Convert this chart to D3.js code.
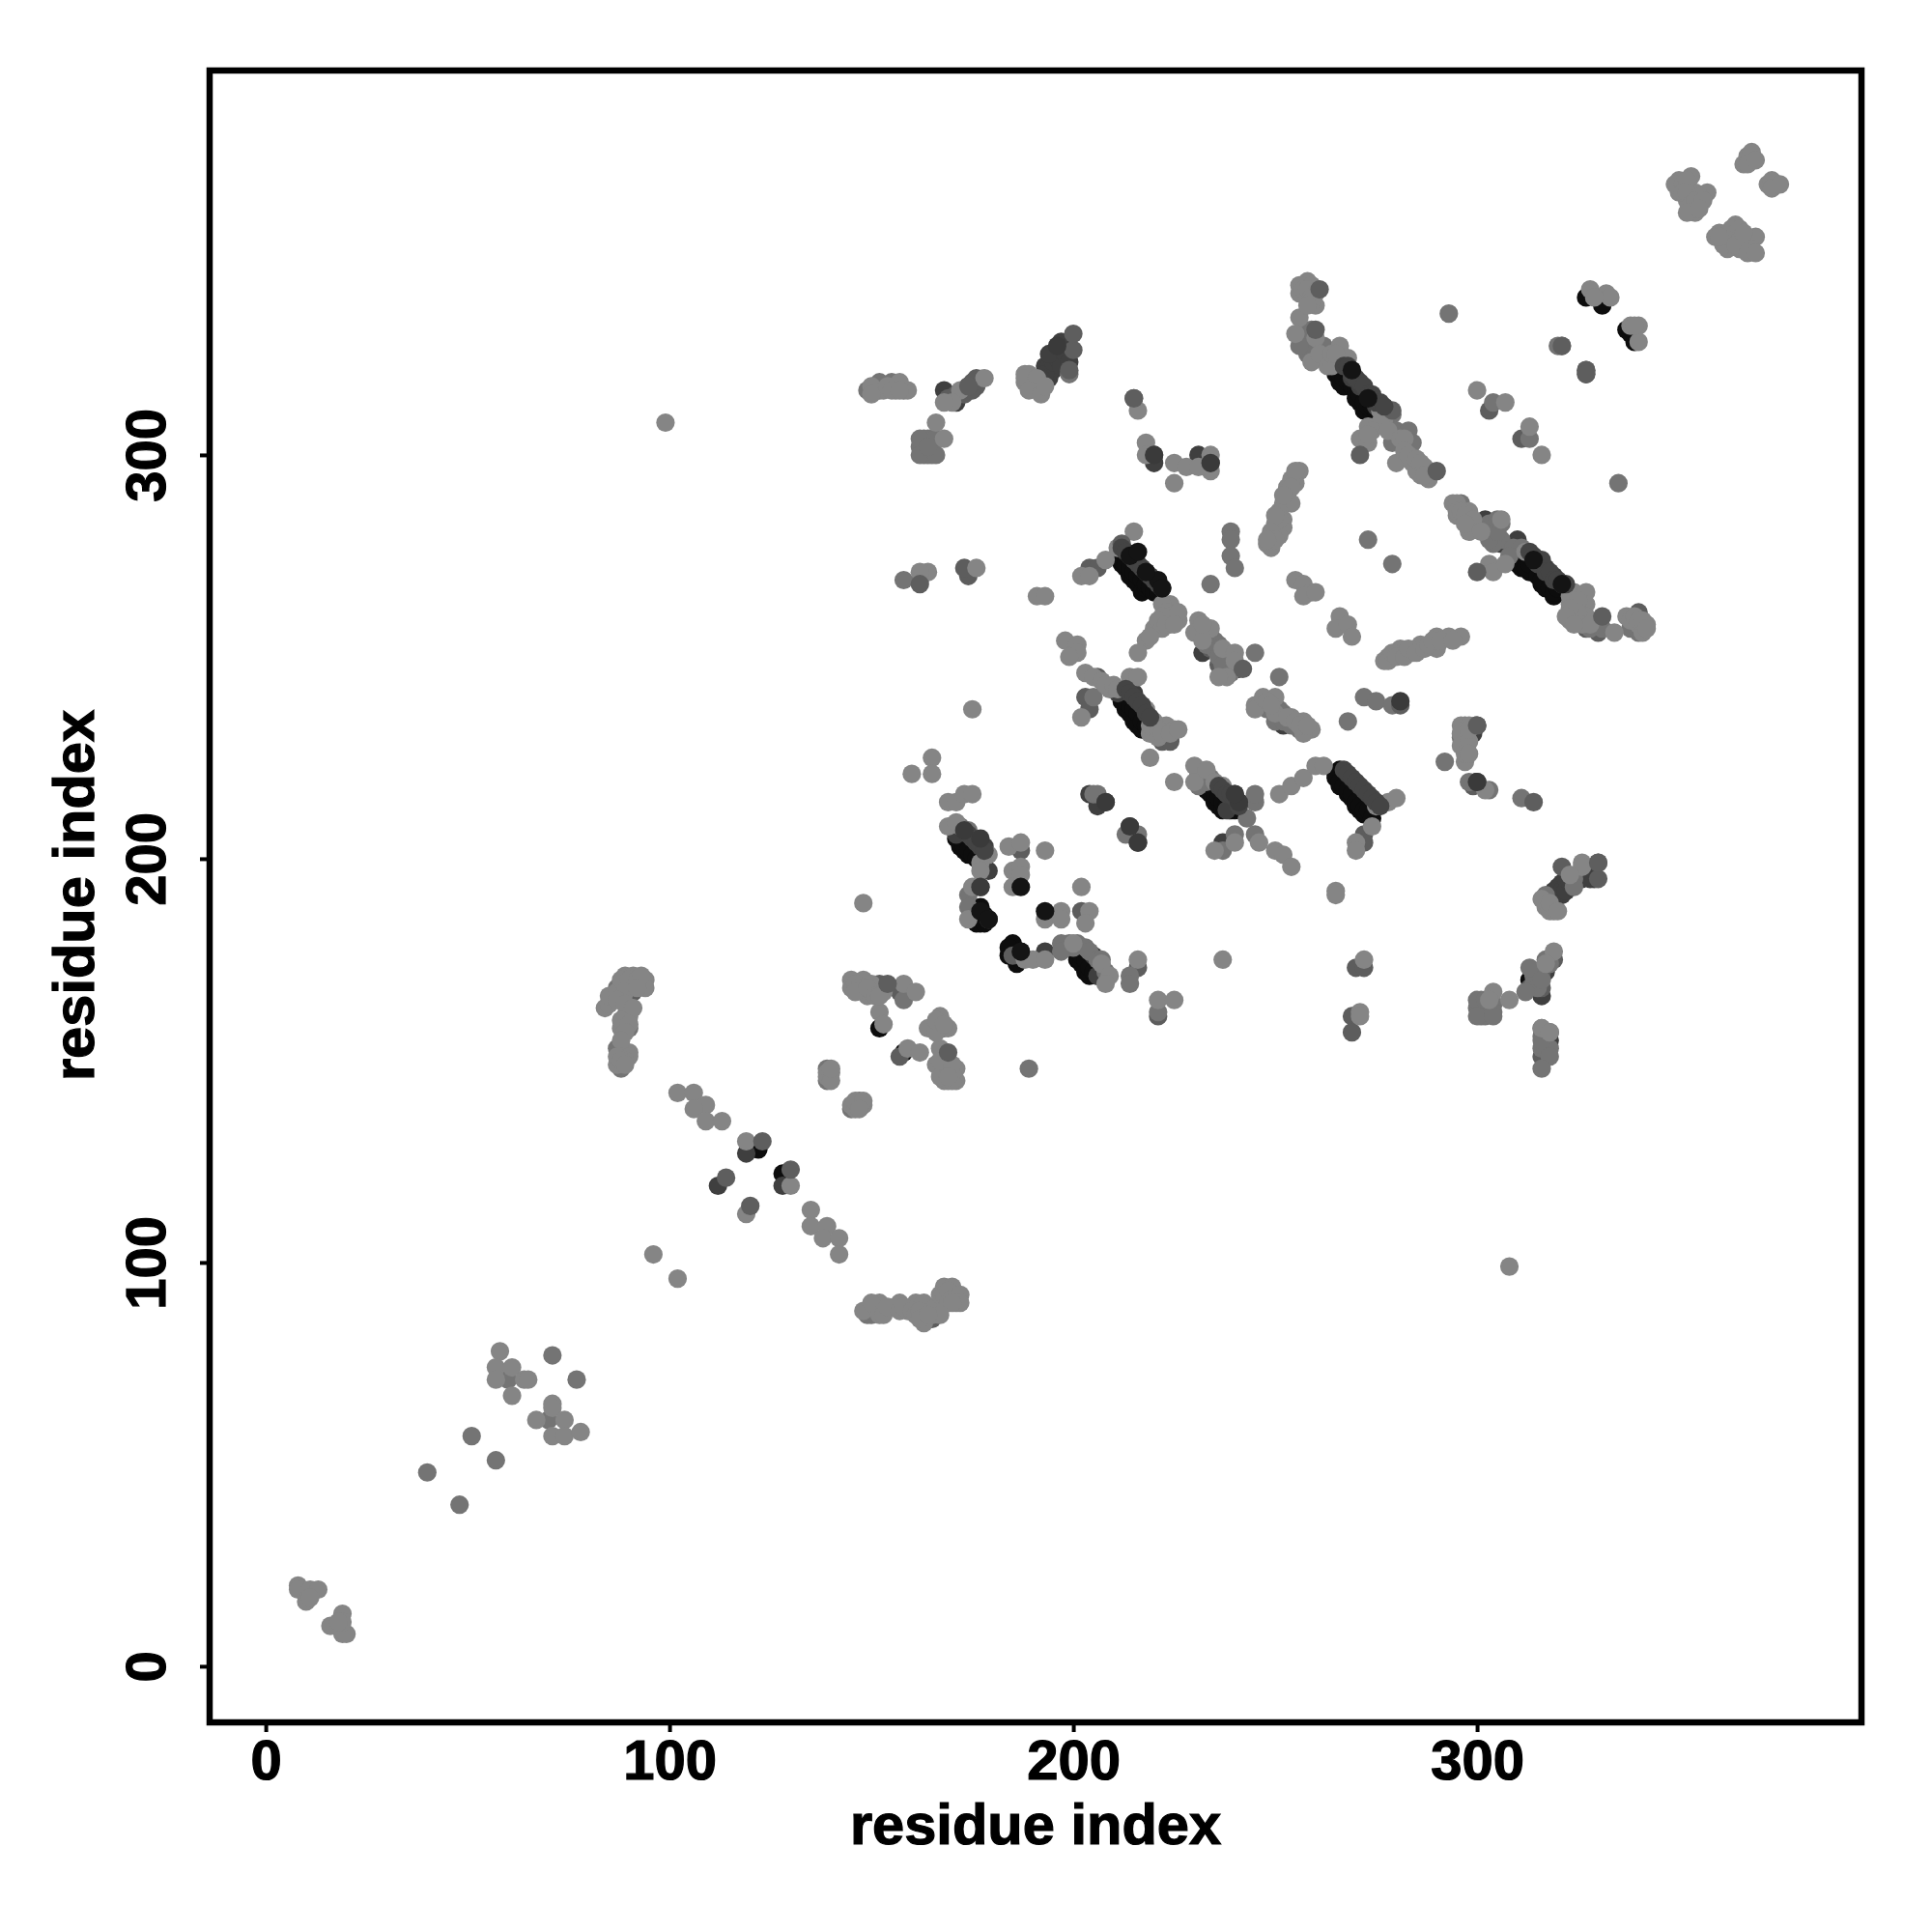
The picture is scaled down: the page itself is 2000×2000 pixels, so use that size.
<!DOCTYPE html>
<html><head><meta charset="utf-8">
<script src="https://cdn.jsdelivr.net/npm/d3@7"></script>
<style>html,body{margin:0;background:#fff}svg{display:block}</style></head>
<body><svg id="c" width="2000" height="2000"></svg>
<script>
const tickValues = [0,100,200,300];
const axisTitle = "residue index";

const contactsDeep = [[172,203],[173,202],[174,201],[174,203],[176,187],[177,184],[176,184],[175,186],[177,186],[185,179],[184,176],[187,177],[186,174],[185,177],[201,175],[202,174],[203,172],[204,171],[234,216],[235,214],[236,213],[237,212],[214,275],[212,273],[213,272],[214,270],[215,269],[216,268],[217,266],[218,267],[266,222],[265,220],[266,218],[268,216],[269,215],[270,213],[271,212],[272,211],[213,237],[212,239],[214,236],[215,234],[216,233],[217,232],[268,321],[265,320],[266,318],[267,317],[273,314],[271,313],[272,311],[270,314],[274,310],[310,273],[311,272],[313,271],[314,274],[316,268],[317,267],[319,265],[321,268],[320,266],[128,122],[122,128],[152,158],[158,152],[327,339],[331,338],[331,337],[337,331],[339,328],[338,330],[313,170]];

const bandDeep = [[211,275],[212,274],[213,273],[214,272],[215,271],[216,270],[217,269],[218,268],[219,267],[220,266],[221,266],[171,205],[172,204],[173,203],[174,202],[175,201],[176,200],[177,199],[178,198],[185,176],[186,177],[187,175],[184,178],[175,188],[176,185],[178,186],[178,184],[177,188],[201,177],[202,176],[203,175],[204,173],[205,172],[206,171],[232,219],[233,217],[235,216],[236,215],[237,214],[238,213],[239,212],[240,212],[265,221],[266,219],[267,218],[268,217],[269,216],[270,214],[271,213],[272,212],[273,212],[274,210],[212,241],[213,239],[214,238],[215,237],[216,236],[217,234],[218,233],[219,232],[266,320],[267,319],[268,318],[269,317],[270,316],[271,315],[272,313],[273,312],[274,312],[275,311],[310,274],[312,272],[313,273],[315,270],[316,269],[318,267],[319,266],[320,267],[322,267]];

const contactsDark = [[119,127],[112,119],[128,119],[171,206],[176,205],[178,203],[179,197],[177,193],[179,185],[193,177],[205,176],[206,171],[237,204],[240,216],[241,214],[238,212],[211,241],[215,241],[204,216],[208,214],[206,213],[214,208],[216,204],[241,247],[232,251],[252,233],[269,319],[271,317],[275,312],[302,284],[306,278],[310,279],[317,272],[319,270],[193,322],[194,319],[196,326],[197,324],[195,321],[168,316],[171,313],[174,317],[220,300],[220,298],[231,300],[234,298],[321,194],[319,192],[321,191],[326,195],[317,172],[316,166],[318,155],[300,219],[300,233],[299,231],[297,231],[194,322],[193,320],[192,319],[195,323],[196,324],[197,322],[197,328],[194,325],[198,325],[199,323],[318,191],[319,190],[320,193],[321,192],[322,192],[322,195],[323,194],[328,196],[327,196],[329,195],[328,195]];

const contactsMedium = [[86,166],[90,166],[91,169],[164,89],[166,88],[165,86],[152,169],[157,167],[157,151],[187,202],[167,158],[216,173],[221,161],[270,173],[272,173],[269,161],[269,157],[272,206],[272,204],[204,272],[206,272],[203,240],[204,237],[206,245],[224,230],[257,327],[303,281],[303,311],[311,304],[327,257],[330,256],[340,261],[162,269],[174,270],[173,272],[176,317],[176,319],[215,314],[321,198],[330,199],[330,195],[319,175],[316,172],[316,168],[313,168],[318,157],[316,151],[299,218],[174,316],[202,187],[185,176],[89,165],[91,167],[92,168],[165,88],[167,89],[234,252],[236,248],[222,229],[224,229],[169,314],[171,315],[173,315],[175,316],[175,318]];

const contactsSoft = [[40,48],[48,40],[51,57],[57,51],[60,71],[70,61],[71,77],[77,71],[87,153],[88,148],[87,168],[139,148],[139,145],[147,140],[145,138],[149,316],[152,318],[152,316],[155,318],[162,304],[166,304],[162,300],[166,300],[164,302],[174,207],[172,208],[174,191],[174,188],[197,179],[197,177],[214,171],[214,169],[221,162],[234,268],[239,281],[239,279],[239,275],[240,272],[245,251],[251,245],[272,240],[275,239],[279,238],[268,234],[297,233],[296,230],[292,224],[298,219],[303,217],[311,215],[273,279],[279,273],[293,335],[304,313],[313,304],[335,293],[327,321],[327,320],[320,327],[321,327],[296,288],[298,284],[303,279],[305,281],[300,165],[302,165],[300,161],[304,162],[304,161],[316,155],[316,158],[318,151],[316,148],[317,191],[317,189],[313,173],[312,167],[316,170],[168,158],[158,165],[89,161],[90,158],[158,316],[259,331],[257,331],[256,327],[262,327],[262,324],[280,306],[283,306],[284,303],[279,303],[199,320],[189,148],[205,216],[206,216],[213,206],[216,206],[305,284],[205,240],[245,214],[245,216],[243,210],[240,206],[245,206],[237,202],[158,269]];

const fillSoft = [[231,221],[232,221],[234,220],[231,218],[233,219],[199,179],[200,178],[201,179],[203,178],[204,177],[206,175],[207,175],[208,172],[231,257],[233,256],[234,255],[235,254],[236,253],[237,250],[238,249],[239,248],[233,253],[235,252],[236,250],[237,248],[239,246],[248,237],[251,237],[252,236],[250,234],[252,234],[254,233],[256,232],[257,330],[258,329],[257,328],[258,326],[259,326],[260,326],[258,325],[261,324],[303,283],[304,283],[305,280],[306,279],[304,278],[306,283],[309,277],[311,277],[308,275],[328,257],[329,258],[331,257],[330,258],[338,257],[340,256],[163,302],[165,302],[163,300],[164,300],[163,304],[164,304],[165,300],[165,304],[162,302],[300,163],[301,163],[302,163],[303,163],[301,161],[302,161],[304,164],[301,165],[314,171],[315,171],[315,172],[314,169],[315,168],[317,175],[318,174],[316,153],[317,153],[316,156],[318,153],[324,195],[324,193],[279,310],[150,87],[151,88],[149,87]];

const contactsPale = [[8,20],[8,19],[11,19],[13,19],[10,16],[11,17],[19,13],[16,10],[19,8],[20,8],[19,11],[18,11],[58,78],[57,74],[61,74],[57,71],[64,71],[65,71],[61,67],[71,65],[71,64],[67,61],[74,61],[71,57],[74,57],[78,58],[96,102],[102,96],[99,308],[308,99],[148,189],[102,142],[106,142],[109,139],[106,138],[109,135],[113,135],[119,130],[119,112],[130,119],[135,113],[135,109],[139,109],[138,106],[142,106],[142,102],[148,88],[152,90],[153,88],[157,90],[159,88],[161,90],[163,90],[163,85],[167,90],[168,94],[170,94],[171,92],[171,90],[168,91],[84,163],[89,171],[91,171],[94,170],[94,168],[88,168],[88,158],[90,161],[90,152],[87,149],[145,139],[147,139],[145,170],[148,170],[145,168],[148,168],[149,166],[153,167],[158,169],[161,167],[152,162],[153,159],[167,161],[165,158],[169,158],[159,153],[162,152],[167,153],[166,149],[171,148],[168,145],[171,145],[168,147],[165,225],[165,221],[169,214],[171,214],[173,216],[175,216],[169,208],[171,209],[179,201],[177,199],[177,197],[175,193],[174,185],[184,203],[187,204],[185,197],[187,198],[187,196],[185,193],[193,202],[202,193],[193,185],[197,187],[197,185],[204,187],[203,184],[188,175],[190,175],[193,175],[200,179],[207,174],[209,171],[208,169],[216,175],[221,165],[225,165],[237,175],[265,192],[265,191],[272,175],[271,162],[271,161],[274,208],[270,204],[270,202],[219,225],[225,219],[230,223],[230,219],[233,222],[235,219],[237,218],[246,204],[240,204],[235,202],[250,202],[252,201],[254,198],[251,216],[254,218],[257,220],[260,223],[262,223],[275,213],[278,214],[280,215],[215,281],[211,277],[208,274],[202,270],[204,270],[224,263],[222,263],[225,260],[220,257],[224,258],[218,254],[216,251],[231,259],[234,257],[230,256],[232,254],[237,252],[240,251],[238,245],[236,245],[250,240],[245,238],[245,237],[250,236],[254,235],[257,234],[259,232],[257,231],[256,296],[254,294],[253,292],[255,293],[253,290],[252,288],[254,288],[251,286],[252,284],[250,283],[252,282],[250,281],[249,279],[251,280],[248,278],[255,269],[257,268],[259,266],[257,265],[260,266],[266,260],[265,257],[268,258],[269,255],[277,249],[281,252],[278,250],[284,251],[286,253],[290,252],[290,255],[293,255],[296,255],[296,233],[297,227],[297,224],[302,217],[198,254],[201,253],[201,251],[199,250],[203,246],[209,242],[202,235],[214,245],[216,245],[218,237],[219,231],[221,233],[223,233],[225,232],[221,230],[258,343],[256,342],[259,342],[258,339],[260,337],[256,334],[255,330],[260,329],[266,327],[259,323],[263,324],[265,323],[276,311],[273,307],[271,304],[273,303],[280,298],[284,298],[285,296],[287,297],[288,294],[294,288],[298,286],[295,285],[298,281],[306,284],[303,273],[304,271],[307,273],[312,276],[324,266],[327,266],[323,263],[327,263],[323,259],[327,260],[334,256],[337,260],[340,258],[342,258],[341,256],[300,316],[307,313],[313,307],[316,300],[328,341],[332,340],[340,332],[340,328],[159,316],[166,308],[168,304],[188,320],[188,318],[190,317],[192,317],[216,311],[218,303],[218,300],[225,298],[225,293],[228,297],[234,300],[234,296],[231,297],[164,271],[162,271],[176,272],[191,265],[193,265],[172,316],[170,313],[178,319],[168,313],[326,199],[326,198],[323,196],[317,188],[319,187],[319,177],[317,174],[304,167],[308,165],[316,158],[318,157],[303,165],[367,374],[368,373],[368,375],[374,367],[372,367],[350,368],[353,369],[350,365],[354,365],[357,365],[354,360],[352,363],[364,357],[360,355],[362,354],[369,354],[368,351],[365,351],[362,351],[363,356],[359,354],[175,237],[160,221]];

const fillPale = [[220,234],[219,233],[221,232],[222,231],[224,231],[226,232],[205,245],[207,244],[208,243],[210,243],[211,242],[232,258],[240,249],[247,240],[248,239],[249,238],[253,235],[255,234],[256,233],[258,233],[261,325],[263,322],[264,322],[264,325],[268,324],[265,325],[277,309],[276,308],[274,306],[273,305],[278,306],[281,304],[282,304],[282,301],[283,300],[285,299],[286,298],[286,295],[287,295],[256,340],[257,341],[258,341],[260,340],[259,339],[259,338],[258,337],[295,288],[295,286],[296,286],[297,285],[299,284],[297,283],[301,281],[323,265],[325,264],[324,261],[325,261],[326,258],[328,258],[323,262],[322,260],[324,258],[338,259],[339,260],[340,259],[341,259],[342,257],[255,296],[254,292],[252,290],[251,284],[250,285],[249,281],[249,277],[250,279],[248,279],[278,249],[279,251],[280,250],[282,250],[283,252],[285,251],[287,252],[288,253],[289,254],[291,254],[294,254],[85,164],[85,166],[87,167],[88,170],[90,170],[89,167],[92,170],[93,171],[92,168],[87,165],[89,164],[91,163],[88,160],[90,159],[89,157],[88,155],[88,151],[90,151],[87,151],[89,150],[88,150],[89,149],[150,90],[152,87],[153,87],[154,89],[157,88],[158,89],[160,88],[161,87],[162,88],[162,86],[165,87],[166,89],[167,92],[168,92],[169,93],[169,90],[170,91],[172,92],[172,90],[170,90],[167,87],[164,87],[146,169],[147,168],[146,167],[150,167],[150,169],[149,168],[151,166],[152,166],[139,146],[139,147],[140,147],[140,145],[140,148],[146,138],[146,140],[148,139],[148,140],[147,138],[169,145],[170,145],[167,146],[169,148],[170,147],[167,150],[170,149],[169,146],[164,158],[166,157],[166,160],[168,159],[349,367],[351,367],[352,368],[351,365],[352,365],[353,362],[355,364],[354,363],[356,363],[352,360],[355,361],[364,355],[365,356],[361,352],[363,353],[365,353],[364,352],[367,350],[369,350],[360,354],[366,355],[366,372],[367,372],[369,373],[373,368],[373,366],[375,367],[150,317],[153,316],[154,317],[156,316],[157,318],[155,316],[157,316],[150,315],[189,320],[190,318],[188,319],[191,319],[189,316],[192,315],[193,317],[223,261],[224,260],[222,260],[221,259],[222,257],[223,258],[226,259],[219,255],[226,261],[225,258],[316,190],[318,187],[318,189],[320,187],[296,231],[298,233],[296,228],[297,226],[298,229],[298,226],[298,232],[338,332],[339,332],[333,339],[329,339]];

const contactsFrontMedium = [[123,130],[130,123],[114,121],[120,114],[169,152],[261,341],[260,331],[281,238],[314,214],[242,247],[300,219],[290,296],[279,311],[331,260],[300,271],[271,300],[321,327],[327,321],[327,320],[200,326],[200,330],[199,321],[162,268],[330,199],[300,233],[215,314],[174,317],[154,169],[212,278]];
const bandDark = [[212,277],[213,276],[214,275],[215,274],[216,273],[217,272],[218,271],[219,270],[220,269],[221,268],[222,267],[174,206],[175,205],[176,204],[177,203],[178,202],[236,218],[237,217],[238,216],[239,216],[240,215],[241,213],[267,222],[268,221],[269,220],[270,219],[271,218],[272,217],[273,216],[274,215],[275,214],[276,213],[213,242],[214,241],[215,240],[216,239],[217,238],[218,236],[219,235],[267,322],[268,322],[269,320],[270,319],[271,318],[272,317],[273,315],[274,315],[275,313],[276,313],[277,312],[313,276],[314,275],[315,273],[316,274],[317,271],[318,271],[319,269],[320,269],[321,268],[322,268]];
const contactsFrontDark = [[208,214],[216,204],[214,208],[196,327],[220,300],[234,298],[179,185],[177,193],[241,214],[240,216],[173,207],[177,205],[281,239],[300,219]];
const contactsFrontDeep = [[187,193],[193,187],[221,269],[222,267],[214,275],[218,271],[273,314],[314,274],[321,268],[269,321],[187,177],[177,187],[179,185],[216,276]];

const layers = [
  [contactsDeep, "#0d0d0d"],
  [bandDeep, "#0d0d0d"],
  [contactsDark, "#3f3f3f"],
  [contactsMedium, "#5d5d5d"],
  [fillSoft, "#747474"],
  [contactsSoft, "#747474"],
  [contactsPale, "#858585"],
  [fillPale, "#858585"],
  [contactsFrontMedium, "#5e5e5e"],
  [bandDark, "#444444"],
  [contactsFrontDark, "#3a3a3a"],
  [contactsFrontDeep, "#141414"]
];

const svg = d3.select("#c");
const frameLeft = 217, frameRight = 1927, frameTop = 73, frameBottom = 1783;
const domain = [-13.9, 395.2];
const x = d3.scaleLinear().domain(domain).range([frameLeft, frameRight]);
const y = d3.scaleLinear().domain(domain).range([frameBottom, frameTop]);

layers.forEach(([data, color]) => {
  svg.append("g").selectAll("circle").data(data).join("circle")
    .attr("cx", d => x(d[0])).attr("cy", d => y(d[1]))
    .attr("r", 9.6).attr("fill", color);
});

svg.append("rect").attr("x", frameLeft).attr("y", frameTop)
  .attr("width", frameRight-frameLeft).attr("height", frameBottom-frameTop)
  .attr("fill", "none").attr("stroke", "#000").attr("stroke-width", 6.5);

const font = "'Liberation Sans', Arial, sans-serif";
const gx = svg.append("g").attr("transform", `translate(0,${frameBottom})`)
  .call(d3.axisBottom(x).tickValues(tickValues).tickSize(10).tickSizeOuter(0));
const gy = svg.append("g").attr("transform", `translate(${frameLeft},0)`)
  .call(d3.axisLeft(y).tickValues(tickValues).tickSize(10).tickSizeOuter(0));
[gx, gy].forEach(g => {
  g.select(".domain").remove();
  g.selectAll(".tick line").attr("stroke", "#000").attr("stroke-width", 4);
  g.selectAll("text").attr("font-family", font).attr("font-weight", "bold")
    .attr("font-size", 58).attr("fill", "#000").attr("stroke", "#000").attr("stroke-width", 1.2);
});
gx.selectAll("text").attr("text-anchor", "middle").attr("dy", null).attr("y", 59);
gy.selectAll("text").attr("text-anchor", "middle").attr("dy", null).attr("x", null)
  .attr("y", null).attr("transform", "translate(-46,0) rotate(-90)");

svg.append("text").text(axisTitle).attr("x", 1072).attr("y", 1909)
  .attr("text-anchor", "middle").attr("font-family", font).attr("font-weight", "bold")
  .attr("font-size", 59.6).attr("fill", "#000").attr("stroke", "#000").attr("stroke-width", 1.2);
svg.append("text").text(axisTitle).attr("transform", "translate(97,927) rotate(-90)")
  .attr("text-anchor", "middle").attr("font-family", font).attr("font-weight", "bold")
  .attr("font-size", 59.6).attr("fill", "#000").attr("stroke", "#000").attr("stroke-width", 1.2);
</script></body></html>
